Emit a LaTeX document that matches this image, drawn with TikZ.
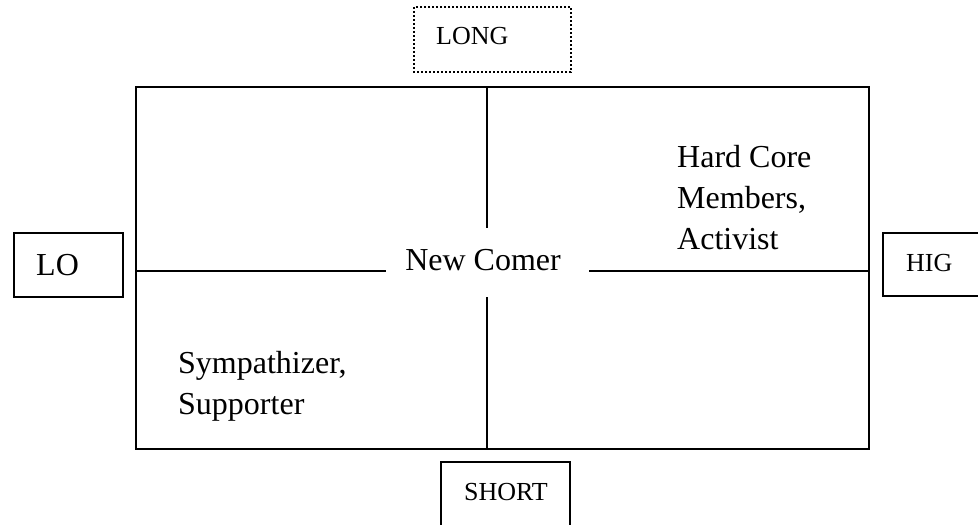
\documentclass[tikz,border=0pt]{standalone}
\usepackage{fontspec}
\setmainfont{Liberation Serif}
\usetikzlibrary{positioning}
\tikzset{
	tag/.style={draw, line width=1.2pt},
	big/.style={font=\fontsize{16}{20.5}\selectfont, inner sep=0pt, align=left},
	small/.style={font=\fontsize{13}{16}\selectfont, inner sep=0pt},
}
\begin{document}
\begin{tikzpicture}[x=0.5pt,y=-0.5pt,line width=1.2pt]
	\useasboundingbox (0,0) rectangle (978,524);
	\clip (0,0) rectangle (978,524);
	% the square and its corners
	\coordinate (nw) at (136,87);
	\coordinate (se) at (869,449);
	\draw (nw) rectangle (se);
	% ends of the dividing lines round the centre
	\coordinate (top) at (487,87);
	\coordinate (bot) at (487,449);
	\coordinate (left) at (136,271);
	\coordinate (right) at (869,271);
	\coordinate (gt) at (487,228);
	\coordinate (gb) at (487,297);
	\coordinate (gl) at (386,271);
	\coordinate (gr) at (589,271);
	\node[big, anchor=base] (comer) at (483,270) {New Comer};
	\draw (top) -- (gt);
	\draw (gb) -- (bot);
	\draw (left) -- (gl);
	\draw (gr) -- (right);
	% quadrant texts
	\node[big, anchor=north west] (core) at (676,144) {Hard Core\\Members,\\Activist};
	\node[big, anchor=north west] (symp) at (177,350) {Sympathizer,\\Supporter};
	% boxes on the sides
	\draw[tag, dash pattern=on 1pt off 1pt] (414,7) rectangle (571,72);
	\node[small, anchor=base west] (long) at (435,45) {LONG};
	\draw[tag] (14,233) rectangle (123,297);
	\node[big, anchor=base west] (lo) at (35,275) {LO};
	\draw[tag] (883,233) rectangle (995,296);
	\node[small, anchor=base west] (hig) at (905,271) {HIG};
	\draw[tag] (441,462) rectangle (570,540);
	\node[small, anchor=base west] (short) at (463,500) {SHORT};
\end{tikzpicture}
\end{document}
